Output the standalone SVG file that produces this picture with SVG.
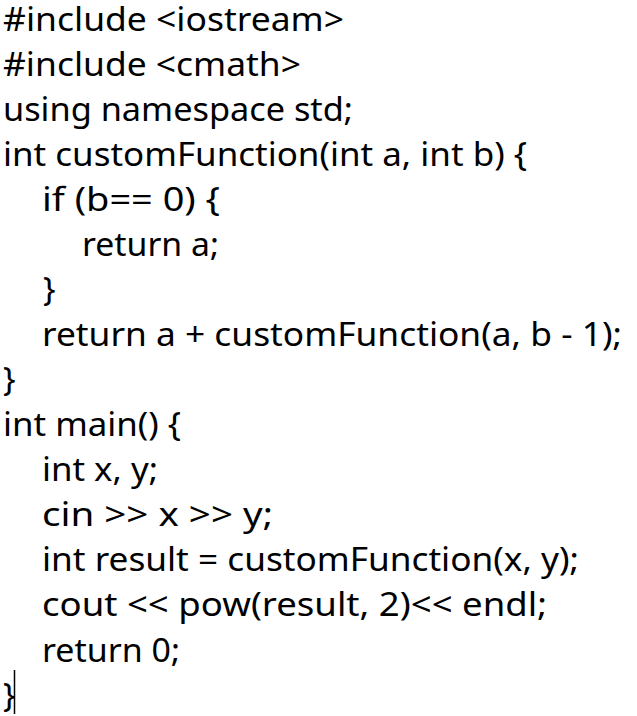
<svg xmlns="http://www.w3.org/2000/svg" width="637" height="716" viewBox="0 0 637 716">
<style>
text{font-family:"Noto Sans","Open Sans","Liberation Sans",sans-serif;font-size:33px;fill:#000}
</style>
<rect width="637" height="716" fill="#fff"/>
<g id="code">
<text x="3" y="30.5" textLength="341" lengthAdjust="spacingAndGlyphs">#include &lt;iostream&gt;</text>
<text x="3" y="75.6" textLength="298" lengthAdjust="spacingAndGlyphs">#include &lt;cmath&gt;</text>
<text x="3" y="120.6" textLength="350" lengthAdjust="spacingAndGlyphs">using namespace std;</text>
<text x="3" y="165.7" textLength="524" lengthAdjust="spacingAndGlyphs">int customFunction(int a, int b) {</text>
<text x="42" y="210.8" textLength="178" lengthAdjust="spacingAndGlyphs">if (b== 0) {</text>
<text x="82" y="255.9" textLength="137" lengthAdjust="spacingAndGlyphs">return a;</text>
<text x="43" y="300.9">}</text>
<text x="42" y="346" textLength="580" lengthAdjust="spacingAndGlyphs">return a + customFunction(a, b - 1);</text>
<text x="3" y="391.1">}</text>
<text x="3" y="436.1" textLength="178" lengthAdjust="spacingAndGlyphs">int main() {</text>
<text x="42" y="481.2" textLength="116" lengthAdjust="spacingAndGlyphs">int x, y;</text>
<text x="42" y="526.3" textLength="231" lengthAdjust="spacingAndGlyphs">cin &gt;&gt; x &gt;&gt; y;</text>
<text x="42" y="571.4" textLength="537" lengthAdjust="spacingAndGlyphs">int result = customFunction(x, y);</text>
<text x="42" y="616.4" textLength="505" lengthAdjust="spacingAndGlyphs">cout &lt;&lt; pow(result, 2)&lt;&lt; endl;</text>
<text x="42" y="661.5" textLength="138" lengthAdjust="spacingAndGlyphs">return 0;</text>
<text x="3" y="706.6">}</text>
</g>
<line id="cursor" x1="14.5" y1="670" x2="14.5" y2="714" stroke="#000" stroke-width="1.5"/>
</svg>
